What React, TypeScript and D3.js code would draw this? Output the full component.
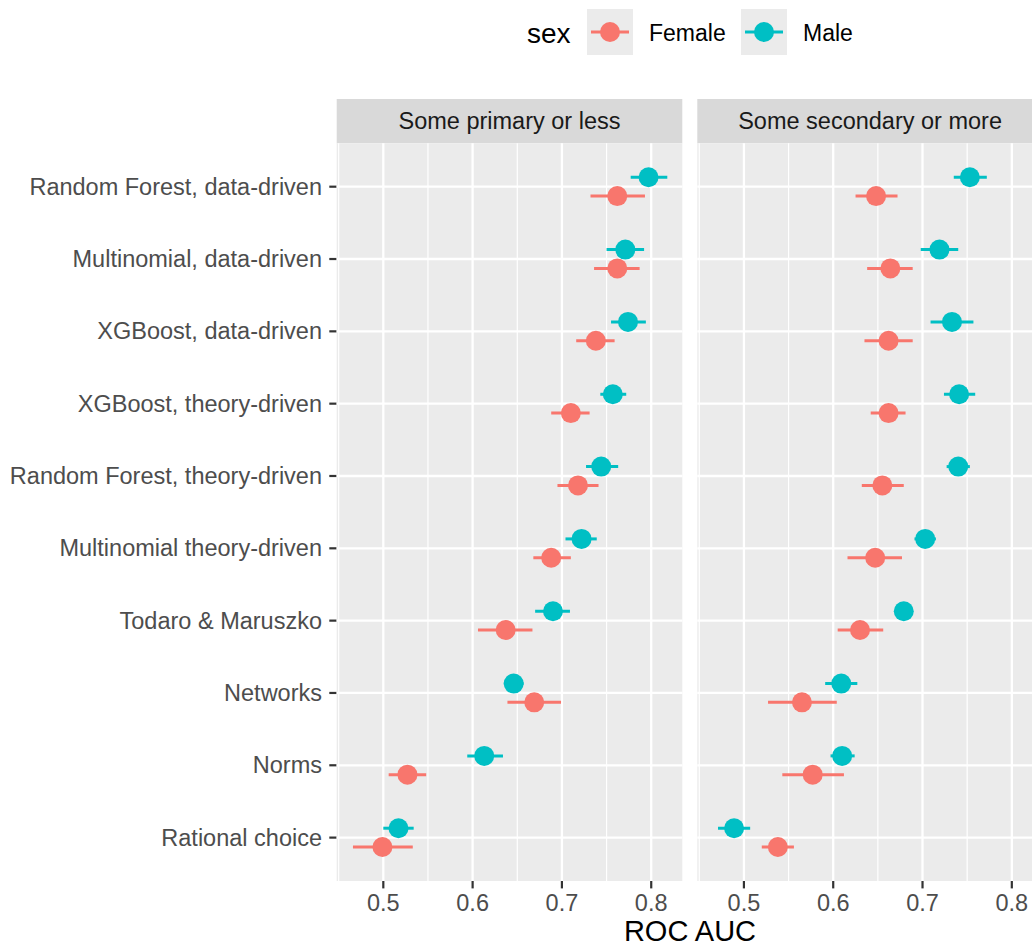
import React from "react";
import * as d3 from "d3";

// categories, top to bottom
const models = [
  "Random Forest, data-driven",
  "Multinomial, data-driven",
  "XGBoost, data-driven",
  "XGBoost, theory-driven",
  "Random Forest, theory-driven",
  "Multinomial theory-driven",
  "Todaro & Maruszko",
  "Networks",
  "Norms",
  "Rational choice",
];

const panels = ["Some primary or less", "Some secondary or more"];
const sexes = ["Female", "Male"];
const xTicks = [0.5, 0.6, 0.7, 0.8];
const xMinor = [0.45, 0.55, 0.65, 0.75];

// [estimate, lower, upper]
const primaryFemale = [
  [0.762, 0.732, 0.793],
  [0.762, 0.736, 0.787],
  [0.738, 0.716, 0.759],
  [0.71, 0.688, 0.731],
  [0.718, 0.695, 0.741],
  [0.688, 0.668, 0.71],
  [0.637, 0.606, 0.667],
  [0.669, 0.639, 0.699],
  [0.527, 0.506, 0.548],
  [0.499, 0.466, 0.533],
];
const primaryMale = [
  [0.797, 0.777, 0.818],
  [0.771, 0.75, 0.792],
  [0.774, 0.755, 0.794],
  [0.757, 0.743, 0.772],
  [0.744, 0.727, 0.763],
  [0.722, 0.704, 0.739],
  [0.69, 0.67, 0.709],
  [0.646, 0.635, 0.657],
  [0.613, 0.594, 0.634],
  [0.517, 0.5, 0.534],
];
const secondaryFemale = [
  [0.648, 0.625, 0.672],
  [0.664, 0.638, 0.689],
  [0.662, 0.635, 0.689],
  [0.662, 0.642, 0.681],
  [0.655, 0.632, 0.679],
  [0.647, 0.616, 0.677],
  [0.63, 0.605, 0.656],
  [0.565, 0.527, 0.604],
  [0.577, 0.543, 0.612],
  [0.538, 0.52, 0.556],
];
const secondaryMale = [
  [0.753, 0.735, 0.772],
  [0.719, 0.698, 0.74],
  [0.733, 0.709, 0.757],
  [0.741, 0.724, 0.759],
  [0.74, 0.727, 0.753],
  [0.703, 0.691, 0.715],
  [0.679, 0.678, 0.681],
  [0.609, 0.591, 0.627],
  [0.61, 0.597, 0.624],
  [0.489, 0.471, 0.507],
];

const panelData = [
  [primaryFemale, primaryMale],
  [secondaryFemale, secondaryMale],
];

const colors = { Female: "#F8766D", Male: "#00BFC4" };
const font = "'Liberation Sans', Arial, sans-serif";

export default function App() {
  const width = 1032;
  const height = 946;
  const panelW = 345.6;
  const panelLeft = [336.7, 697.3];
  const stripTop = 99;
  const top = 143.3;
  const bottom = 881;
  const dodge = 9.4;

  const x = d3.scaleLinear().domain([0.4478, 0.8348]).range([0, panelW]);
  const y = d3.scalePoint<string>().domain(models).range([top, bottom]).padding(0.6);

  return (
    <svg width={width} height={height} style={{ position: "absolute", left: 0, top: 0, background: "#fff" }} fontFamily={font}>
      {/* legend */}
      <text x={527} y={43} fontSize={28} fill="#000">sex</text>
      {sexes.map((s, i) => {
        const kx = [587, 741][i];
        const tx = [649, 803][i];
        const c = colors[s as keyof typeof colors];
        return (
          <g key={s}>
            <rect x={kx} y={9} width={46} height={46} fill="#EBEBEB" />
            <line x1={kx + 4} x2={kx + 42} y1={32} y2={32} stroke={c} strokeWidth={3} />
            <circle cx={kx + 23} cy={32} r={10} fill={c} />
            <text x={tx} y={41} fontSize={23} fill="#000">{s}</text>
          </g>
        );
      })}

      {/* y axis */}
      {models.map((m) => (
        <g key={m}>
          <text x={322} y={y(m)! + 8} fontSize={23.5} fill="#4D4D4D" textAnchor="end">{m}</text>
          <line x1={329.3} x2={336.7} y1={y(m)} y2={y(m)} stroke="#333333" strokeWidth={2.2} />
        </g>
      ))}

      {panels.map((p, pi) => {
        const ox = panelLeft[pi];
        const [fem, mal] = panelData[pi];
        return (
          <g key={p} transform={`translate(${ox},0)`}>
            <rect x={0} y={stripTop} width={panelW} height={top - stripTop} fill="#D9D9D9" />
            <text x={panelW / 2} y={(stripTop + top) / 2 + 8} fontSize={23.5} fill="#1A1A1A" textAnchor="middle">{p}</text>
            <rect x={0} y={top} width={panelW} height={bottom - top} fill="#EBEBEB" />
            {xMinor.map((t) => (
              <line key={"mi" + t} x1={x(t)} x2={x(t)} y1={top} y2={bottom} stroke="#fff" strokeWidth={1.2} />
            ))}
            {xTicks.map((t) => (
              <line key={"ma" + t} x1={x(t)} x2={x(t)} y1={top} y2={bottom} stroke="#fff" strokeWidth={2.3} />
            ))}
            {models.map((m) => (
              <line key={"h" + m} x1={0} x2={panelW} y1={y(m)} y2={y(m)} stroke="#fff" strokeWidth={2.3} />
            ))}
            {[fem, mal].map((series, si) => {
              const c = si === 0 ? colors.Female : colors.Male;
              const off = si === 0 ? dodge : -dodge;
              return (
                <g key={si}>
                  {series.map((d, i) => {
                    const cy = y(models[i])! + off;
                    return (
                      <g key={i}>
                        <line x1={x(d[1])} x2={x(d[2])} y1={cy} y2={cy} stroke={c} strokeWidth={3} />
                        <circle cx={x(d[0])} cy={cy} r={10} fill={c} />
                      </g>
                    );
                  })}
                </g>
              );
            })}
            {xTicks.map((t) => (
              <g key={"t" + t}>
                <line x1={x(t)} x2={x(t)} y1={bottom} y2={bottom + 7.4} stroke="#333333" strokeWidth={2.2} />
                <text x={x(t)} y={911} fontSize={23.5} fill="#4D4D4D" textAnchor="middle">{t.toFixed(1)}</text>
              </g>
            ))}
          </g>
        );
      })}

      <text x={690} y={941} fontSize={29} fill="#000" textAnchor="middle">ROC AUC</text>
    </svg>
  );
}
